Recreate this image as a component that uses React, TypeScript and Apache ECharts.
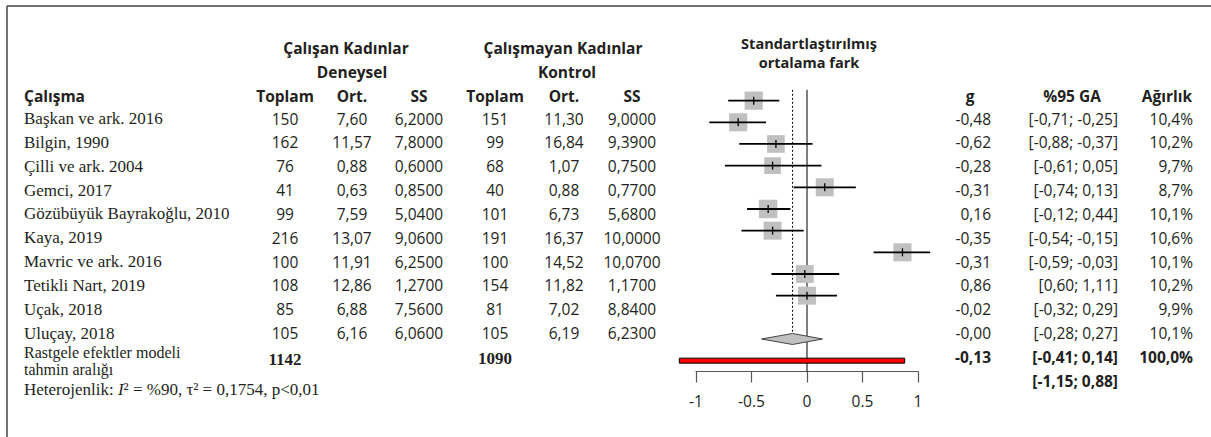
import React, { useEffect, useRef } from "react";
import * as echarts from "echarts";

// ---------- data ----------
const studies = [
  "Başkan ve ark. 2016",
  "Bilgin, 1990",
  "Çilli ve ark. 2004",
  "Gemci, 2017",
  "Gözübüyük Bayrakoğlu, 2010",
  "Kaya, 2019",
  "Mavric ve ark. 2016",
  "Tetikli Nart, 2019",
  "Uçak, 2018",
  "Uluçay, 2018",
];
const expTotal = [150, 162, 76, 41, 99, 216, 100, 108, 85, 105];
const expMean = [7.6, 11.57, 0.88, 0.63, 7.59, 13.07, 11.91, 12.86, 6.88, 6.16];
const expSD = [6.2, 7.8, 0.6, 0.85, 5.04, 9.06, 6.25, 1.27, 7.56, 6.06];
const ctlTotal = [151, 99, 68, 40, 101, 191, 100, 154, 81, 105];
const ctlMean = [11.3, 16.84, 1.07, 0.88, 6.73, 16.37, 14.52, 11.82, 7.02, 6.19];
const ctlSD = [9.0, 9.39, 0.75, 0.77, 5.68, 10.0, 10.07, 1.17, 8.84, 6.23];
const gValues = [-0.48, -0.62, -0.28, -0.31, 0.16, -0.35, -0.31, 0.86, -0.02, -0.0];
const ciLow = [-0.71, -0.88, -0.61, -0.74, -0.12, -0.54, -0.59, 0.6, -0.32, -0.28];
const ciHigh = [-0.25, -0.37, 0.05, 0.13, 0.44, -0.15, -0.03, 1.11, 0.29, 0.27];
const weights = [10.4, 10.2, 9.7, 8.7, 10.1, 10.6, 10.1, 10.2, 9.9, 10.1];

const pooledTotals = [1142, 1090];
const pooledEffect = [-0.13, -0.41, 0.14]; // g, low, high
const pooledWeight = 100.0;
const predictionInterval = [-1.15, 0.88];
const axisTicks = [-1, -0.5, 0, 0.5, 1];

// ---------- helpers ----------
const SANS = '"Open Sans", "Noto Sans", sans-serif';
const SERIF = '"Liberation Serif", "Times New Roman", serif';
const INK = "#231f20";

const fmt = (v: number, d: number) => {
  const neg = v < 0 || Object.is(v, -0);
  return (neg ? "-" : "") + Math.abs(v).toFixed(d).replace(".", ",");
};
const ciFmt = (lo: number, hi: number) => `[${fmt(lo, 2)}; ${fmt(hi, 2)}]`;

const rowY = (i: number) => 118.5 + 23.85 * i;

const COL = { n1: 285, m1: 352, s1: 419, n2: 495, m2: 564, s2: 632 };
const NAME_X = 24;
const G_RIGHT = 991;
const CI_RIGHT = 1118;
const W_RIGHT = 1193;

function txt(
  text: string,
  x: number,
  y: number,
  opts: { align?: string; bold?: boolean; serif?: boolean; size?: number; lineHeight?: number; rich?: any } = {}
) {
  const size = opts.size ?? (opts.serif ? 17 : 15.5);
  return {
    type: "text",
    x,
    y,
    silent: true,
    style: {
      text,
      fill: INK,
      fontFamily: opts.serif ? SERIF : SANS,
      fontSize: size,
      fontWeight: opts.bold ? "bold" : "normal",
      align: opts.align ?? "center",
      verticalAlign: "middle",
      lineHeight: opts.lineHeight,
      rich: opts.rich,
    },
  };
}

function buildGraphics() {
  const g: any[] = [];
  // frame
  g.push({ type: "line", silent: true, shape: { x1: 7, y1: 6, x2: 1211, y2: 6 }, style: { stroke: "#444", lineWidth: 1.5 } });
  g.push({ type: "line", silent: true, shape: { x1: 7, y1: 6, x2: 7, y2: 437 }, style: { stroke: "#444", lineWidth: 1.5 } });

  // group headers
  g.push(txt("Çalışan Kadınlar", 346, 48, { bold: true }));
  g.push(txt("Çalışmayan Kadınlar", 563, 48, { bold: true }));
  g.push(txt("Deneysel", 352, 72, { bold: true }));
  g.push(txt("Kontrol", 567, 72, { bold: true }));
  g.push(txt("Standartlaştırılmış", 809, 43, { bold: true, size: 14.5 }));
  g.push(txt("ortalama fark", 809, 62, { bold: true, size: 14.5 }));

  // column headers
  const hy = 95.5;
  g.push(txt("Çalışma", NAME_X, hy, { bold: true, align: "left" }));
  g.push(txt("Toplam", COL.n1, hy, { bold: true }));
  g.push(txt("Ort.", COL.m1, hy, { bold: true }));
  g.push(txt("SS", COL.s1, hy, { bold: true }));
  g.push(txt("Toplam", COL.n2, hy, { bold: true }));
  g.push(txt("Ort.", COL.m2, hy, { bold: true }));
  g.push(txt("SS", COL.s2, hy, { bold: true }));
  g.push(txt("g", 970, hy, { bold: true }));
  g.push(txt("%95 GA", 1072, hy, { bold: true }));
  g.push(txt("Ağırlık", 1167, hy, { bold: true }));

  // rows
  studies.forEach((name, i) => {
    const y = rowY(i);
    g.push(txt(name, NAME_X, y, { serif: true, align: "left" }));
    g.push(txt(String(expTotal[i]), COL.n1, y));
    g.push(txt(fmt(expMean[i], 2), COL.m1, y));
    g.push(txt(fmt(expSD[i], 4), COL.s1, y));
    g.push(txt(String(ctlTotal[i]), COL.n2, y));
    g.push(txt(fmt(ctlMean[i], 2), COL.m2, y));
    g.push(txt(fmt(ctlSD[i], 4), COL.s2, y));
    g.push(txt(fmt(gValues[i], 2), G_RIGHT, y, { align: "right" }));
    g.push(txt(ciFmt(ciLow[i], ciHigh[i]), CI_RIGHT, y, { align: "right" }));
    g.push(txt(fmt(weights[i], 1) + "%", W_RIGHT, y, { align: "right" }));
  });

  // summary
  const sy = rowY(studies.length);
  g.push(txt("Rastgele efektler modeli", NAME_X, 352.5, { serif: true, align: "left", size: 16 }));
  g.push(txt("tahmin aralığı", NAME_X, 369, { serif: true, align: "left", size: 16 }));
  g.push(txt(String(pooledTotals[0]), COL.n1, 359.5, { serif: true, bold: true }));
  g.push(txt(String(pooledTotals[1]), COL.n2, 358.5, { serif: true, bold: true }));
  g.push(txt(fmt(pooledEffect[0], 2), G_RIGHT, sy, { align: "right", bold: true }));
  g.push(txt(ciFmt(pooledEffect[1], pooledEffect[2]), CI_RIGHT, sy, { align: "right", bold: true }));
  g.push(txt(fmt(pooledWeight, 1) + "%", W_RIGHT, sy, { align: "right", bold: true }));
  g.push(txt(ciFmt(predictionInterval[0], predictionInterval[1]), CI_RIGHT, rowY(studies.length + 1), { align: "right", bold: true }));

  // heterogeneity
  g.push(
    txt("Heterojenlik: {it|I}² = %90, τ² = 0,1754, p<0,01", NAME_X, 389, {
      serif: true,
      align: "left",
      rich: { it: { fontStyle: "italic", fontFamily: SERIF, fontSize: 17, fill: INK } },
    })
  );
  return g;
}

export default function App() {
  const ref = useRef<HTMLDivElement>(null);
  useEffect(() => {
    if (!ref.current) return;
    const chart = echarts.init(ref.current, undefined, { renderer: "svg" });
    const n = studies.length;
    const diamondRow = n + 1;
    const predRow = n + 2;
    const option: any = {
      animation: false,
      backgroundColor: "#ffffff",
      grid: { left: 696, right: 293, top: 89.8, bottom: 65.5 },
      xAxis: {
        type: "value",
        min: axisTicks[0],
        max: axisTicks[axisTicks.length - 1],
        interval: axisTicks[1] - axisTicks[0],
        splitLine: { show: false },
        axisLine: { show: true, onZero: false, lineStyle: { color: "#555", width: 1.2 } },
        axisTick: { show: true, length: 11, lineStyle: { color: "#555", width: 1.2 } },
        axisLabel: { margin: 21, color: INK, fontFamily: SANS, fontSize: 15.5 },
      },
      yAxis: { type: "value", inverse: true, min: -0.5, max: predRow + 0.5, show: false },
      series: [
        {
          type: "custom",
          clip: false,
          silent: true,
          data: [
            [0, 0],
            [pooledEffect[0], 1],
          ],
          encode: { x: 0, y: 1 },
          renderItem: (params: any, api: any) => {
            const xv = api.value(0);
            const dotted = api.value(1) === 1;
            const cs = params.coordSys;
            const x = api.coord([xv, 0])[0];
            const top = cs.y;
            const bottom = dotted ? api.coord([xv, diamondRow])[1] - 5.5 : cs.y + cs.height;
            return {
              type: "line",
              shape: { x1: x, y1: top, x2: x, y2: bottom },
              style: { stroke: "#000", lineWidth: 1, lineDash: dotted ? [2, 2] : null },
            };
          },
        },
        {
          type: "custom",
          clip: false,
          silent: true,
          data: gValues.map((g, i) => [g, ciLow[i], ciHigh[i], i, weights[i]]),
          encode: { x: [0, 1, 2], y: 3 },
          renderItem: (_p: any, api: any) => {
            const g = api.value(0);
            const lo = api.value(1);
            const hi = api.value(2);
            const k = api.value(3);
            const w = api.value(4);
            const c = api.coord([g, k]);
            const l = api.coord([lo, k]);
            const h = api.coord([hi, k]);
            const size = 18 * Math.sqrt(w / 10.1);
            return {
              type: "group",
              children: [
                { type: "rect", shape: { x: c[0] - size / 2, y: c[1] - size / 2, width: size, height: size }, style: { fill: "#c0c0c0" } },
                { type: "line", shape: { x1: l[0], y1: l[1], x2: h[0], y2: h[1] }, style: { stroke: "#000", lineWidth: 1.8 } },
                { type: "line", shape: { x1: c[0], y1: c[1] - 4, x2: c[0], y2: c[1] + 4 }, style: { stroke: "#000", lineWidth: 1.3 } },
              ],
            };
          },
        },
        {
          type: "custom",
          clip: false,
          silent: true,
          data: [[pooledEffect[0], pooledEffect[1], pooledEffect[2], diamondRow]],
          encode: { x: [0, 1, 2], y: 3 },
          renderItem: (_p: any, api: any) => {
            const k = api.value(3);
            const c = api.coord([api.value(0), k]);
            const l = api.coord([api.value(1), k]);
            const h = api.coord([api.value(2), k]);
            return {
              type: "polygon",
              shape: { points: [[l[0], l[1]], [c[0], c[1] - 5.5], [h[0], h[1]], [c[0], c[1] + 5.5]] },
              style: { fill: "#c0c0c0", stroke: "#444", lineWidth: 1 },
            };
          },
        },
        {
          type: "custom",
          clip: false,
          silent: true,
          data: [[predictionInterval[0], predictionInterval[1], predRow]],
          encode: { x: [0, 1], y: 2 },
          renderItem: (_p: any, api: any) => {
            const k = api.value(2);
            const l = api.coord([api.value(0), k]);
            const h = api.coord([api.value(1), k]);
            return {
              type: "rect",
              shape: { x: l[0], y: l[1] - 2.5, width: h[0] - l[0], height: 5 },
              style: { fill: "#ff0000", stroke: "#000", lineWidth: 1 },
            };
          },
        },
      ],
      graphic: buildGraphics(),
    };
    chart.setOption(option);
    return () => chart.dispose();
  }, []);
  return (
    <div
      ref={ref}
      style={{ position: "fixed", left: 0, top: 0, width: 1211, height: 437, background: "#fff" }}
    />
  );
}
